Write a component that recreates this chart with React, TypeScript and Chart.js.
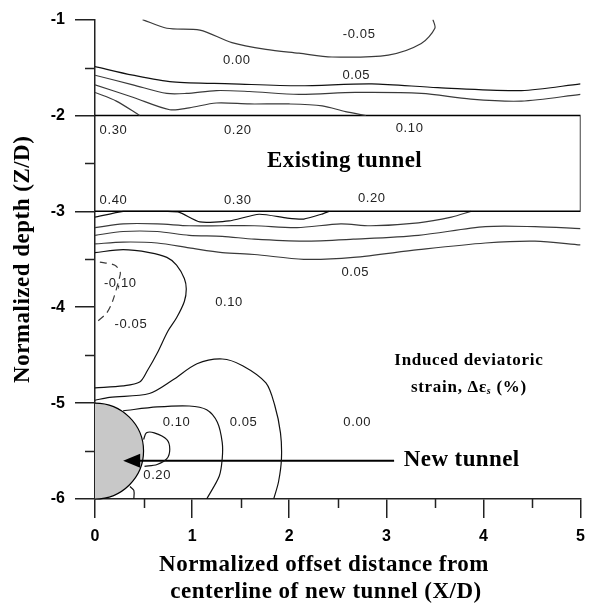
import { useEffect, useRef } from 'react';
import { Chart, registerables } from 'chart.js';

Chart.register(...registerables);

// ---------- axes ----------
const X_MIN = 0;
const X_MAX = 5;
const Y_MIN = -6;
const Y_MAX = -1;
const X_MINOR = [0.5, 1.5, 2.5, 3.5, 4.5];
const Y_MINOR = [-1.5, -2.5, -3.5, -4.5, -5.5];

// ---------- contour lines (X/D, Z/D) ----------
const TOP_LOOP_X = [0.49, 0.74, 1.08, 1.41, 1.76, 2.1, 2.44, 3.02, 3.36, 3.5, 3.48];
const TOP_LOOP_Y = [-1.0, -1.09, -1.11, -1.24, -1.31, -1.35, -1.39, -1.37, -1.25, -1.09, -1.0];

const ABOVE_1_X = [0, 0.39, 0.8, 1.41, 2.1, 2.85, 3.53, 4.39, 5.0];
const ABOVE_1_Y = [-1.49, -1.58, -1.65, -1.67, -1.69, -1.67, -1.71, -1.74, -1.67];

const ABOVE_2_X = [0, 0.39, 0.74, 0.94, 1.25, 1.59, 2.1, 2.68, 3.36, 3.87, 4.39, 5.0];
const ABOVE_2_Y = [-1.58, -1.68, -1.77, -1.77, -1.74, -1.75, -1.78, -1.76, -1.77, -1.83, -1.85, -1.78];

const ABOVE_3_X = [0, 0.39, 0.77, 0.97, 1.25, 1.59, 2.0, 2.34, 2.58, 2.79];
const ABOVE_3_Y = [-1.68, -1.81, -1.94, -1.92, -1.87, -1.88, -1.88, -1.9, -1.96, -2.0];

const ABOVE_4_X = [0, 0.22, 0.46];
const ABOVE_4_Y = [-1.76, -1.85, -2.0];

const BOX_X = [0, 5, 5, 0];
const BOX_Y = [-2, -2, -3, -3];

const BELOW_1_X = [0, 0.29, 0.41, 0.75, 0.87, 1.08, 1.38, 1.69, 1.98, 2.15, 2.33, 2.41];
const BELOW_1_Y = [-3.06, -3.0, -3.0, -3.0, -3.01, -3.11, -3.1, -3.03, -3.07, -3.08, -3.03, -3.0];

const BELOW_2_X = [0, 0.29, 0.64, 0.97, 1.31, 1.64, 2.08, 2.53, 2.84, 3.33, 3.67, 3.87];
const BELOW_2_Y = [-3.17, -3.13, -3.13, -3.15, -3.15, -3.15, -3.17, -3.13, -3.15, -3.12, -3.06, -3.0];

const BELOW_3_X = [0, 0.29, 0.64, 0.97, 1.31, 1.64, 2.15, 2.66, 3.33, 4.02, 4.53, 5.0];
const BELOW_3_Y = [-3.25, -3.21, -3.21, -3.25, -3.26, -3.29, -3.31, -3.29, -3.25, -3.16, -3.16, -3.18];

const BELOW_4_X = [0, 0.29, 0.64, 0.97, 1.31, 1.64, 2.15, 2.66, 3.33, 4.02, 4.53, 5.0];
const BELOW_4_Y = [-3.34, -3.32, -3.33, -3.38, -3.43, -3.45, -3.5, -3.48, -3.4, -3.33, -3.31, -3.35];

const LOOP_F_X = [0, 0.29, 0.56, 0.74, 0.84, 0.92, 0.94, 0.92, 0.84, 0.75, 0.64, 0.54, 0.46, 0.29, 0];
const LOOP_F_Y = [-3.43, -3.4, -3.43, -3.48, -3.56, -3.7, -3.81, -3.94, -4.11, -4.25, -4.48, -4.66, -4.78, -4.82, -4.84];

const DASHED_X = [0.05, 0.2, 0.26, 0.25, 0.18, 0.12, 0];
const DASHED_Y = [-3.53, -3.56, -3.63, -3.7, -3.94, -4.06, -4.17];

const LINE_G_X = [0, 0.15, 0.56, 0.8, 1.05, 1.31, 1.52, 1.76, 1.85, 1.91, 1.92, 1.89, 1.84];
const LINE_G_Y = [-4.97, -4.94, -4.9, -4.76, -4.59, -4.54, -4.61, -4.79, -5.02, -5.31, -5.58, -5.82, -6.0];

const LINE_H_X = [0.29, 0.64, 0.97, 1.15, 1.26, 1.31, 1.31, 1.28, 1.15];
const LINE_H_Y = [-5.08, -5.04, -5.03, -5.07, -5.2, -5.41, -5.58, -5.76, -6.0];

const LOOP_020_X = [0.5, 0.53, 0.61, 0.74, 0.77, 0.74, 0.64, 0.51];
const LOOP_020_Y = [-5.38, -5.31, -5.31, -5.38, -5.48, -5.58, -5.64, -5.66];

const SMALL_X = [0.36, 0.4, 0.4];
const SMALL_Y = [-5.87, -5.91, -6.0];

// ---------- contour labels ----------
const LABEL_TEXT = ['-0.05', '0.00', '0.05', '0.30', '0.20', '0.10', '0.40', '0.30', '0.20', '0.05', '-0,10', '-0.05', '0.10', '0.10', '0.05', '0.00', '0.20'];
const LABEL_X = [2.72, 1.46, 2.69, 0.19, 1.47, 3.24, 0.19, 1.47, 2.85, 2.68, 0.26, 0.37, 1.38, 0.84, 1.53, 2.7, 0.64];
const LABEL_Y = [-1.15, -1.43, -1.58, -2.16, -2.16, -2.14, -2.89, -2.89, -2.86, -3.64, -3.75, -4.18, -3.95, -5.2, -5.2, -5.2, -5.75];

// ---------- new tunnel & arrow ----------
const TUNNEL_CENTER = [0, -5.5];
const TUNNEL_RADIUS = [0.5];
const ARROW_X = [3.08, 0.4];
const ARROW_Y = [-5.6, -5.6];

const SERIF = '"Liberation Serif", "Times New Roman", serif';
const SANS = '"Liberation Sans", Arial, sans-serif';
const LINE_COLOR = '#3a3a3a';

function pts(xs: number[], ys: number[]) {
  return xs.map((x, i) => ({ x, y: ys[i] }));
}

function line(xs: number[], ys: number[], extra: any = {}) {
  return {
    data: pts(xs, ys),
    showLine: true,
    pointRadius: 0,
    borderColor: LINE_COLOR,
    borderWidth: 1.2,
    tension: 0.3,
    fill: false,
    ...extra,
  };
}

const decorPlugin = {
  id: 'decor',
  beforeDatasetsDraw(chart: any) {
    const { ctx, scales } = chart;
    const x = scales.x, y = scales.y;
    const cx = x.getPixelForValue(TUNNEL_CENTER[0]);
    const cy = y.getPixelForValue(TUNNEL_CENTER[1]);
    const rx = x.getPixelForValue(TUNNEL_RADIUS[0]) - x.getPixelForValue(0);
    const ry = y.getPixelForValue(-TUNNEL_RADIUS[0]) - y.getPixelForValue(0);
    ctx.save();
    ctx.beginPath();
    ctx.ellipse(cx, cy, rx, ry, 0, -Math.PI / 2, Math.PI / 2);
    ctx.closePath();
    ctx.fillStyle = '#c8c8c8';
    ctx.fill();
    ctx.beginPath();
    ctx.ellipse(cx, cy, rx, ry, 0, -Math.PI / 2, Math.PI / 2);
    ctx.strokeStyle = '#000';
    ctx.lineWidth = 1.2;
    ctx.stroke();
    ctx.restore();
  },
  afterDatasetsDraw(chart: any) {
    const { ctx, scales, chartArea } = chart;
    const x = scales.x, y = scales.y;
    ctx.save();
    // arrow head
    const tipX = x.getPixelForValue(0.29);
    const baseX = tipX + 17;
    const ay = y.getPixelForValue(ARROW_Y[1]);
    ctx.beginPath();
    ctx.moveTo(tipX, ay);
    ctx.lineTo(baseX, ay - 7);
    ctx.lineTo(baseX, ay + 7);
    ctx.closePath();
    ctx.fillStyle = '#000';
    ctx.fill();

    // contour labels
    ctx.fillStyle = '#222';
    ctx.font = `13px ${SANS}`;
    (ctx as any).letterSpacing = '0.6px';
    ctx.textAlign = 'center';
    ctx.textBaseline = 'middle';
    LABEL_TEXT.forEach((t, i) => {
      ctx.fillText(t, x.getPixelForValue(LABEL_X[i]), y.getPixelForValue(LABEL_Y[i]));
    });

    // big annotations
    ctx.fillStyle = '#000';
    (ctx as any).letterSpacing = '0.4px';
    ctx.font = `bold 23px ${SERIF}`;
    ctx.textAlign = 'center';
    ctx.fillText('Existing tunnel', x.getPixelForValue(2.57), y.getPixelForValue(-2.48));
    ctx.textAlign = 'left';
    ctx.fillText('New tunnel', x.getPixelForValue(3.18), y.getPixelForValue(-5.59));

    ctx.font = `bold 17px ${SERIF}`;
    (ctx as any).letterSpacing = '0.7px';
    ctx.textAlign = 'center';
    ctx.fillText('Induced deviatoric', x.getPixelForValue(3.85), y.getPixelForValue(-4.56));
    // strain, Δε_s (%)
    const p1 = 'strain, \u0394\u03b5';
    const p3 = ' (%)';
    const w1 = ctx.measureText(p1).width;
    const w3 = ctx.measureText(p3).width;
    ctx.font = `bold italic 10px ${SERIF}`;
    const w2 = ctx.measureText('s').width;
    const total = w1 + w2 + w3;
    const cxT = x.getPixelForValue(3.85);
    const cyT = y.getPixelForValue(-4.84);
    let sx = cxT - total / 2;
    ctx.textAlign = 'left';
    ctx.font = `bold 17px ${SERIF}`;
    ctx.fillText(p1, sx, cyT);
    sx += w1;
    ctx.font = `bold italic 10px ${SERIF}`;
    ctx.fillText('s', sx, cyT + 4);
    sx += w2;
    ctx.font = `bold 17px ${SERIF}`;
    ctx.fillText(p3, sx, cyT);

    // minor ticks
    (ctx as any).letterSpacing = '0px';
    ctx.strokeStyle = '#222';
    ctx.lineWidth = 1.5;
    ctx.beginPath();
    X_MINOR.forEach((v) => {
      const px = Math.round(x.getPixelForValue(v)) + 0.5;
      ctx.moveTo(px, chartArea.bottom);
      ctx.lineTo(px, chartArea.bottom + 9);
    });
    Y_MINOR.forEach((v) => {
      const py = Math.round(y.getPixelForValue(v)) + 0.5;
      ctx.moveTo(chartArea.left - 10, py);
      ctx.lineTo(chartArea.left, py);
    });
    ctx.stroke();
    ctx.restore();
  },
  afterDraw(chart: any) {
    const { ctx, chartArea } = chart;
    ctx.save();
    ctx.fillStyle = '#000';
    ctx.font = `bold 23px ${SERIF}`;
    (ctx as any).letterSpacing = '0.5px';
    ctx.textAlign = 'center';
    ctx.textBaseline = 'middle';
    ctx.fillText('Normalized offset distance from', chartArea.left + 229, chartArea.bottom + 66);
    ctx.fillText('centerline of new tunnel (X/D)', chartArea.left + 231, chartArea.bottom + 93);
    ctx.translate(chartArea.left - 72, (chartArea.top + chartArea.bottom) / 2);
    ctx.rotate(-Math.PI / 2);
    ctx.fillText('Normalized depth (Z/D)', 0, 0);
    ctx.restore();
  },
};

export default function App() {
  const ref = useRef<HTMLCanvasElement>(null);
  useEffect(() => {
    const canvas = ref.current!;
    const chart = new Chart(canvas, {
      type: 'scatter',
      data: {
        datasets: [
          line(TOP_LOOP_X, TOP_LOOP_Y),
          line(ABOVE_1_X, ABOVE_1_Y, { borderColor: '#111' }),
          line(ABOVE_2_X, ABOVE_2_Y),
          line(ABOVE_3_X, ABOVE_3_Y),
          line(ABOVE_4_X, ABOVE_4_Y),
          line(BOX_X, BOX_Y, { borderColor: '#000', borderWidth: 1.5, tension: 0 }),
          line(BELOW_1_X, BELOW_1_Y, { borderColor: '#111', tension: 0.2 }),
          line(BELOW_2_X, BELOW_2_Y),
          line(BELOW_3_X, BELOW_3_Y),
          line(BELOW_4_X, BELOW_4_Y),
          line(LOOP_F_X, LOOP_F_Y, { borderColor: '#111' }),
          line(DASHED_X, DASHED_Y, { borderDash: [7, 5] }),
          line(LINE_G_X, LINE_G_Y, { borderColor: '#111' }),
          line(LINE_H_X, LINE_H_Y, { borderColor: '#111' }),
          line(LOOP_020_X, LOOP_020_Y, { borderColor: '#111' }),
          line(SMALL_X, SMALL_Y, { borderColor: '#111' }),
          line(ARROW_X, ARROW_Y, { borderColor: '#000', borderWidth: 2, tension: 0 }),
        ],
      },
      options: {
        responsive: false,
        animation: false,
        devicePixelRatio: 1,
        layout: { padding: { top: 14, right: 11, left: 0, bottom: 0 } },
        plugins: { legend: { display: false }, tooltip: { enabled: false } },
        scales: {
          x: {
            type: 'linear',
            min: X_MIN,
            max: X_MAX,
            afterFit: (s: any) => { s.height = 111; },
            border: { display: true, color: '#222', width: 1.5 },
            grid: { drawOnChartArea: false, drawTicks: true, tickLength: 19, color: '#222', lineWidth: 1.5 },
            ticks: {
              stepSize: 1,
              padding: 9,
              color: '#000',
              font: { family: SANS, size: 16, weight: 'bold' },
              callback: (v: any) => String(v),
            },
          },
          y: {
            type: 'linear',
            min: Y_MIN,
            max: Y_MAX,
            afterFit: (s: any) => { s.width = 95; },
            border: { display: true, color: '#222', width: 1.5 },
            grid: { drawOnChartArea: false, drawTicks: true, tickLength: 20, color: '#222', lineWidth: 1.5 },
            ticks: {
              stepSize: 1,
              padding: 10,
              color: '#000',
              font: { family: SANS, size: 16, weight: 'bold' },
              callback: (v: any) => String(v),
            },
          },
        },
      } as any,
      plugins: [decorPlugin],
    });
    return () => chart.destroy();
  }, []);
  return (
    <div style={{ position: 'absolute', left: 0, top: 0, width: 594, height: 610, background: '#fff' }}>
      <canvas ref={ref} width={594} height={610} style={{ display: 'block', width: 594, height: 610 }} />
    </div>
  );
}
